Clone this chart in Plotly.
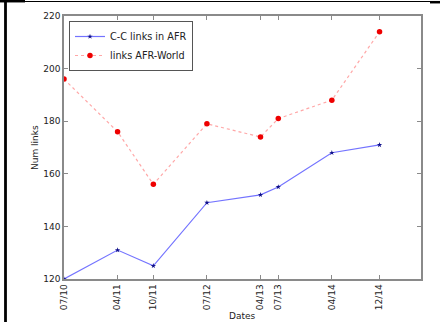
import plotly.graph_objects as go

dates = ["2010-07-01", "2011-04-01", "2011-10-01", "2012-07-01",
         "2013-04-01", "2013-07-01", "2014-04-01", "2014-12-01"]
date_labels = ["07/10", "04/11", "10/11", "07/12", "04/13", "07/13", "04/14", "12/14"]
cc_links_afr = [120, 131, 125, 149, 152, 155, 168, 171]
links_afr_world = [196, 176, 156, 179, 174, 181, 188, 214]
y_ticks = [120, 140, 160, 180, 200, 220]

W, H = 440, 322
L, R, T, B = 64, 421, 16, 279


def px(x):
    return (x - L) / (R - L)


def py(y):
    return (B - y) / (B - T)


fig = go.Figure()
fig.add_trace(go.Scatter(
    x=dates, y=cc_links_afr, mode="lines+markers", name="C-C links in AFR",
    line=dict(color="rgba(40,40,255,0.65)", width=1.2),
    marker=dict(symbol="star", size=4, color="#10108a"),
))
fig.add_trace(go.Scatter(
    x=dates, y=links_afr_world, mode="lines+markers", name="links AFR-World",
    line=dict(color="rgba(255,80,80,0.5)", width=1.2, dash="dot"),
    marker=dict(symbol="circle", size=5.5, color="#ee0000"),
))

axis_common = dict(
    showline=True, linecolor="#8a8a8a", linewidth=1.5, mirror="ticks",
    ticks="inside", ticklen=4, tickcolor="#8a8a8a", showgrid=False, zeroline=False,
    tickfont=dict(family="DejaVu Sans", size=9, color="#222222"),
)

fig.update_xaxes(
    type="date", range=["2010-07-01", "2015-07-01"],
    tickmode="array", tickvals=dates, ticktext=date_labels, tickangle=-90,
    **axis_common,
)
fig.update_yaxes(
    range=[120, 220], tickmode="array", tickvals=y_ticks,
    **axis_common,
)

shapes = [
    dict(type="line", xref="paper", yref="paper", x0=px(0), x1=px(430), y0=py(1.5), y1=py(1.5),
         line=dict(color="black", width=1.2)),
    dict(type="line", xref="paper", yref="paper", x0=px(0), x1=px(25), y0=py(1.2), y1=py(1.2),
         line=dict(color="black", width=2.5)),
    dict(type="line", xref="paper", yref="paper", x0=px(430), x1=px(440), y0=py(2.2), y1=py(2.2),
         line=dict(color="black", width=2.5)),
    dict(type="line", xref="paper", yref="paper", x0=px(5.5), x1=px(5.5), y0=py(1), y1=py(322),
         line=dict(color="black", width=2.8)),
]

annotations = [
    dict(text="Num links", xref="paper", yref="paper", x=px(35), y=py(148), textangle=-90,
         showarrow=False, font=dict(family="DejaVu Sans", size=9, color="#222222"),
         xanchor="center", yanchor="middle"),
    dict(text="Dates", xref="paper", yref="paper", x=px(242), y=py(316), showarrow=False,
         font=dict(family="DejaVu Sans", size=9, color="#222222"),
         xanchor="center", yanchor="middle"),
]

fig.update_layout(
    width=W, height=H,
    margin=dict(l=L, r=W - R, t=T, b=H - B),
    paper_bgcolor="white", plot_bgcolor="white",
    showlegend=True,
    legend=dict(x=px(69), y=py(21), xanchor="left", yanchor="top",
                bordercolor="#555555", borderwidth=1, bgcolor="white",
                font=dict(family="DejaVu Sans", size=9.7, color="#222222"),
                tracegroupgap=0, itemwidth=30),
    shapes=shapes, annotations=annotations,
)

fig.write_html("out.html")
